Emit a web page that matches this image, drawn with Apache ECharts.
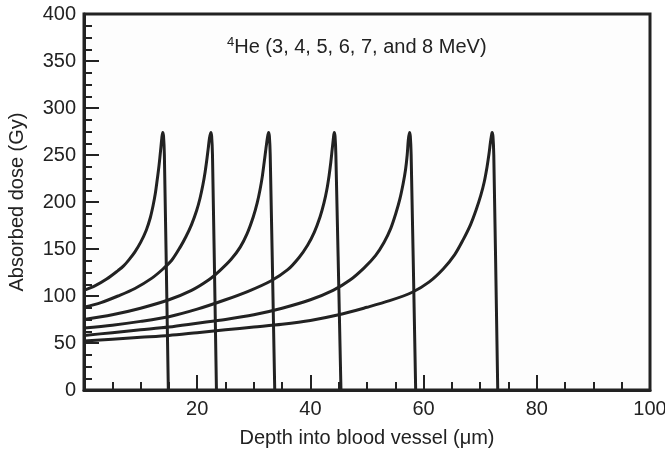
<!DOCTYPE html>
<html>
<head>
<meta charset="utf-8">
<script src="https://cdn.jsdelivr.net/npm/echarts@6/dist/echarts.min.js"></script>
<style>html,body{margin:0;padding:0;background:#fff}#c{width:665px;height:449px}</style>
</head>
<body>
<div id="c"></div>
<script>
// Depth (µm) and absorbed dose (Gy) for 4He ions of 3..8 MeV
const depth3 = [0, 2, 4, 6, 7, 8, 9, 10, 11, 11.7, 12.2, 12.6, 12.9, 13.2, 13.4, 13.6, 13.75, 13.9, 14.05, 14.2, 14.9];
const dose3  = [106, 111, 118, 127, 132, 139, 147, 157, 170, 183, 196, 209, 222, 236, 247, 259, 268, 274, 270, 250, 0];

const depth4 = [0, 3, 6, 9, 12, 14, 15.5, 17, 18, 19, 19.9, 20.5, 21, 21.4, 21.7, 21.95, 22.15, 22.4, 22.55, 22.7, 23.4];
const dose4  = [88, 93, 100, 108, 119, 129, 138, 152, 163, 176, 191, 204, 218, 232, 245, 257, 267, 274, 270, 250, 0];

const depth5 = [0, 5, 10, 15, 19, 22, 24, 26, 27.6, 28.8, 29.9, 30.6, 31.1, 31.5, 31.85, 32.15, 32.4, 32.6, 32.75, 32.9, 33.7];
const dose5  = [75, 80, 87, 96, 106, 117, 127, 139, 152, 166, 184, 199, 213, 227, 243, 257, 268, 274, 270, 250, 0];

const depth6 = [0, 5, 10, 15, 20, 25, 29, 33, 36, 38, 39.5, 40.7, 41.7, 42.4, 42.9, 43.3, 43.6, 43.85, 44.05, 44.2, 44.35, 44.5, 45.4];
const dose6  = [66, 69, 73, 78, 86, 96, 105, 116, 128, 141, 154, 168, 184, 199, 213, 228, 242, 256, 267, 274, 270, 250, 0];

const depth7 = [0, 5, 10, 15, 20, 25, 30, 35, 40, 44, 47, 49.5, 51.5, 53, 54.2, 55.1, 55.8, 56.4, 56.8, 57.1, 57.3, 57.5, 57.65, 57.8, 58.6];
const dose7  = [58, 61, 64, 67, 71, 75, 80, 87, 96, 106, 117, 130, 143, 157, 172, 188, 203, 220, 234, 250, 266, 274, 270, 250, 0];

const depth8 = [0, 5, 10, 15, 20, 25, 30, 35, 40, 45, 50, 54, 58, 61, 63.5, 65.5, 67, 68.3, 69.3, 70.1, 70.7, 71.2, 71.55, 71.8, 72.0, 72.1, 72.25, 72.4, 73.1];
const dose8  = [52, 54, 56, 58, 61, 64, 67, 70, 74, 80, 88, 95, 104, 115, 129, 144, 160, 176, 192, 207, 221, 237, 251, 263, 271, 274, 270, 250, 0];

const energies = ['3 MeV', '4 MeV', '5 MeV', '6 MeV', '7 MeV', '8 MeV'];
const depths = [depth3, depth4, depth5, depth6, depth7, depth8];
const doses = [dose3, dose4, dose5, dose6, dose7, dose8];

const yTicks = [0, 50, 100, 150, 200, 250, 300, 350, 400];
const xTicks = [20, 40, 60, 80, 100];

const FONT = 'Liberation Sans, Arial, Helvetica, sans-serif';
const INK = '#222';
const FS = 20;

const chart = echarts.init(document.getElementById('c'), null, {renderer: 'canvas'});

const series = energies.map((name, i) => ({
  name: name,
  type: 'line',
  data: depths[i].map((d, j) => [d, doses[i][j]]),
  showSymbol: false,
  smooth: 0.3,
  lineStyle: {color: INK, width: 3},
  z: 3
}));

chart.setOption({
  animation: false,
  backgroundColor: '#fff',
  grid: {left: 84, right: 15, top: 14, bottom: 59, containLabel: false, outerBoundsMode: 'none',
    show: true, borderColor: INK, borderWidth: 3, backgroundColor: '#fdfdfd'},
  xAxis: {
    type: 'value', min: 0, max: 100, interval: 20,
    name: 'Depth into blood vessel (\u03bcm)', nameLocation: 'middle', nameGap: 38,
    nameTextStyle: {fontFamily: FONT, fontSize: FS, color: INK},
    axisLine: {lineStyle: {color: INK, width: 3}},
    axisTick: {inside: true, length: 15, lineStyle: {color: INK, width: 2}},
    minorTick: {show: true, splitNumber: 4, length: 8, lineStyle: {color: INK, width: 2}},
    splitLine: {show: false},
    axisLabel: {fontFamily: FONT, fontSize: FS, color: INK, margin: 9,
      formatter: v => xTicks.indexOf(v) >= 0 ? String(v) : ''}
  },
  yAxis: {
    type: 'value', min: 0, max: 400, interval: 50,
    name: 'Absorbed dose (Gy)', nameLocation: 'middle', nameGap: 57, nameRotate: 90,
    nameTextStyle: {fontFamily: FONT, fontSize: FS, color: INK},
    axisLine: {lineStyle: {color: INK, width: 3}},
    axisTick: {inside: true, length: 15, lineStyle: {color: INK, width: 2}},
    minorTick: {show: true, splitNumber: 4, length: 8, lineStyle: {color: INK, width: 2}},
    splitLine: {show: false},
    axisLabel: {fontFamily: FONT, fontSize: FS, color: INK, margin: 8, padding: [4, 0, 0, 0],
      formatter: v => yTicks.indexOf(v) >= 0 ? String(v) : ''}
  },
  graphic: [{
    type: 'text', left: 227, top: 36, z: 10,
    style: {
      text: '{sup|4}{main|He (3, 4, 5, 6, 7, and 8 MeV)}',
      rich: {
        sup: {fontFamily: FONT, fontSize: 13, fill: INK, verticalAlign: 'top', padding: [0, 0, 9, 0]},
        main: {fontFamily: FONT, fontSize: FS, fill: INK}
      }
    }
  }],
  series: series
});
</script>
</body>
</html>
